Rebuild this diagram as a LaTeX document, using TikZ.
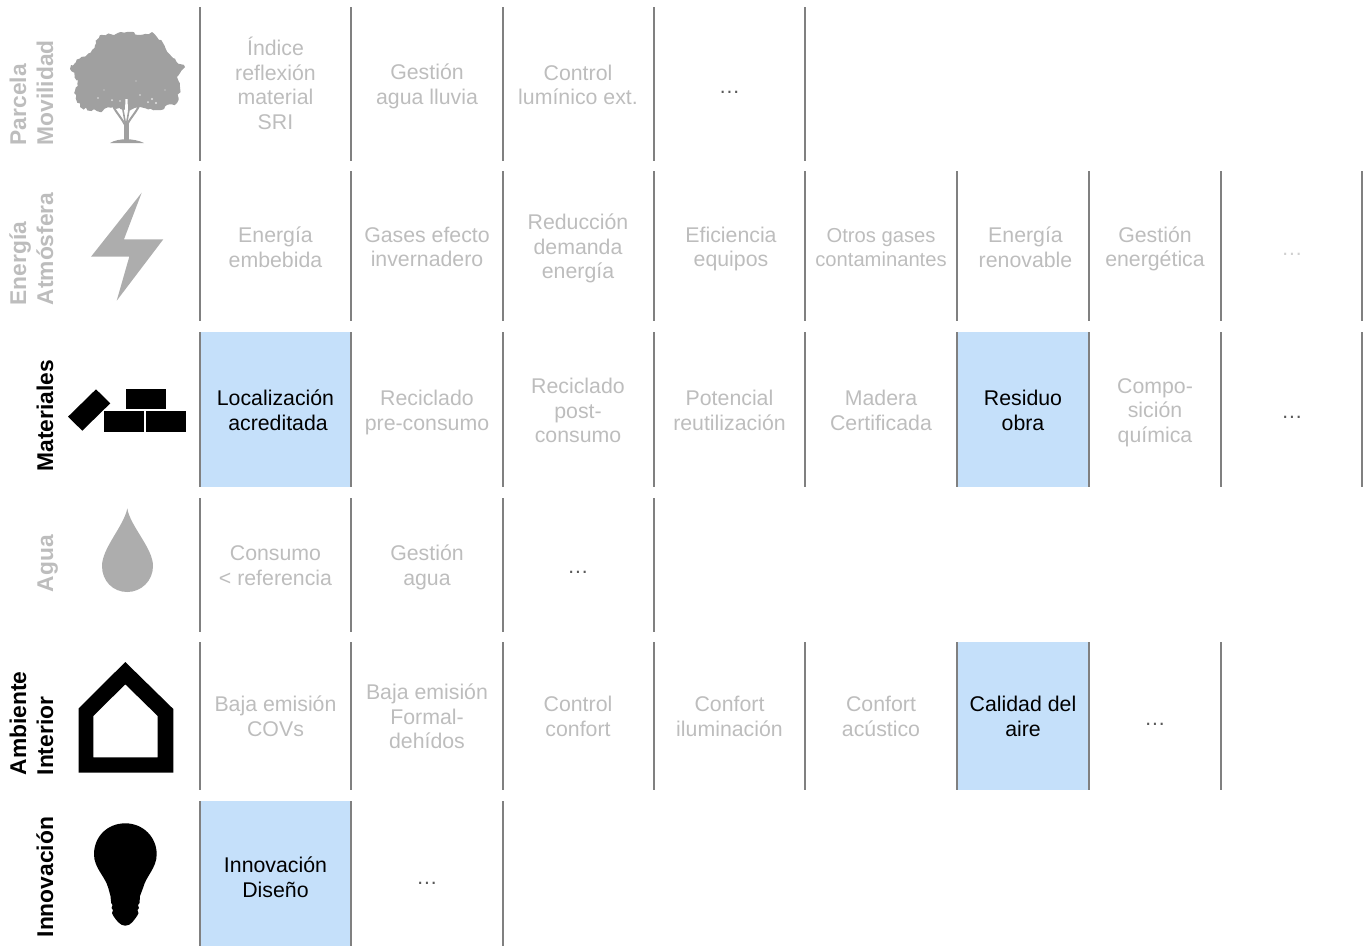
\documentclass[tikz,border=0pt]{standalone}
\usepackage{fontspec}
\setmainfont{Liberation Sans}
\usetikzlibrary{decorations.pathmorphing}
\definecolor{linegray}{HTML}{808080}
\definecolor{txtgray}{HTML}{BDBDBD}
\definecolor{faint}{HTML}{D0D0D0}
\definecolor{icongray}{HTML}{ADADAD}
\definecolor{treegray}{HTML}{A0A0A0}
\definecolor{cellblue}{HTML}{C5E0FA}
\tikzset{
  x=1pt,y=-1pt,
  cell/.style={align=center,inner sep=0pt,text=txtgray,font=\fontsize{21.3}{24.6}\selectfont},
  hot/.style={cell,text=black},
  sep/.style={draw=linegray,line width=2pt},
  side/.style={rotate=90,anchor=base west,inner sep=0pt,font=\fontsize{22.8}{24}\selectfont\bfseries},
  blue/.style={fill=cellblue,draw=none}
}
\newcommand{\seps}[3]{\foreach \xx in {#3}{\draw[sep] (\xx,#1) -- (\xx,#2);}}
\begin{document}
\begin{tikzpicture}
\useasboundingbox (0,0) rectangle (1370,946);
% blue cells
\fill[blue] (200,332) rectangle (351,487);
\fill[blue] (957,332) rectangle (1089,487);
\fill[blue] (957,642) rectangle (1089,790);
\fill[blue] (200,801) rectangle (351,946);
% separators
\seps{7}{161}{200,351,503,654,805}
\seps{171}{321}{200,351,503,654,805,957,1089,1221,1362}
\seps{332}{487}{200,351,503,654,805,957,1089,1221,1362}
\seps{498}{632}{200,351,503,654}
\seps{642}{790}{200,351,503,654,805,957,1089,1221}
\seps{801}{946}{200,351,503}
% side labels
\node[side,text=txtgray] (l1a) at (26,145.5) {Parcela};
\node[side,text=txtgray] (l1b) at (53,145.5) {Movilidad};
\node[side,text=txtgray] (l2a) at (26,305.5) {Energía};
\node[side,text=txtgray] (l2b) at (53,305.5) {Atmósfera};
\node[side,text=black] (l3) at (53,471.5) {Materiales};
\node[side,text=txtgray] (l4) at (53,592.5) {Agua};
\node[side,text=black] (l5a) at (26,775.5) {Ambiente};
\node[side,text=black] (l5b) at (53,775.5) {Interior};
\node[side,text=black] (l6) at (53,937.5) {Innovación};
% row 1
\node[cell] (c11) at (275.5,83.5) {Índice\\reflexión\\material\\SRI};
\node[cell] (c12) at (427,86.5) {Gestión\\agua lluvia};
\node[cell] (c13) at (578,85) {Control\\lumínico ext.};
\node[cell,text=black!65] (c14) at (729.5,92.5) {…};
% row 2
\node[cell] (c21) at (275.5,247) {Energía\\embebida};
\node[cell] (c22) at (427,247) {Gases efecto\\invernadero};
\node[cell] (c23) at (578,248.5) {Reducción\\demanda\\energía};
\node[cell] (c24) at (731,249) {Eficiencia\\equipos};
\node[cell,font=\fontsize{20.2}{24}\selectfont] (c25) at (881,248) {Otros gases\\contaminantes};
\node[cell] (c26) at (1025.5,247) {Energía\\renovable};
\node[cell] (c27) at (1155,249) {Gestión\\energética};
\node[cell,text=faint] (c28) at (1292,254.5) {…};
% row 3
\node[hot] (c31) at (275.5,410.5) {Localización\\\hspace*{5pt}acreditada};
\node[cell] (c32) at (427,412.5) {Reciclado\\pre-consumo};
\node[cell] (c33) at (578,410.5) {Reciclado\\post-\\consumo};
\node[cell] (c34) at (729.5,410.5) {Potencial\\reutilización};
\node[cell] (c35) at (881,410.5) {Madera\\Certificada};
\node[hot] (c36) at (1023,410.5) {Residuo\\obra};
\node[cell] (c37) at (1155,412.5) {Compo-\\sición\\química};
\node[cell,text=black!65] (c38) at (1292,417.5) {…};
% row 4
\node[cell] (c41) at (275.5,565.5) {Consumo\\< referencia};
\node[cell] (c42) at (427,567.5) {Gestión\\agua};
\node[cell,text=black!65] (c43) at (578,572) {…};
% row 5
\node[cell] (c51) at (275.5,716.5) {Baja emisión\\COVs};
\node[cell] (c52) at (427,716.5) {Baja emisión\\Formal-\\dehídos};
\node[cell] (c53) at (578,716.5) {Control\\confort};
\node[cell] (c54) at (729.5,716.5) {Confort\\iluminación};
\node[cell] (c55) at (881,716.5) {Confort\\acústico};
\node[hot] (c56) at (1023,716.5) {Calidad del\\aire};
\node[cell,text=black!65] (c57) at (1155,724) {…};
% row 6
\node[hot] (c61) at (275.5,877) {Innovación\\Diseño};
\node[cell,text=black!65] (c62) at (427,883) {…};
% tree
\pgfmathsetseed{7}
\fill[treegray,decorate,decoration={random steps,segment length=3pt,amplitude=1.6pt}]
  (127,32) -- (100,35) -- (92,50) -- (71,65) -- (70,69) -- (78,80) -- (74,93) -- (80,107)
  -- (100,112) -- (113,107) -- (127,110) -- (140,107) -- (157,110) -- (177,103) -- (180,87)
  -- (177,77) -- (185,67) -- (173,58) -- (163,43) -- (152,32) -- (140,35) -- cycle;
\fill[treegray] (124,124) -- (124,140) -- (129,140) -- (129,124) -- cycle;
\draw[treegray,line width=2pt,line cap=round] (126,127) .. controls (122,118) and (117,114) .. (113,106);
\draw[treegray,line width=2pt,line cap=round] (126,127) .. controls (130,118) and (135,114) .. (139,106);
\draw[treegray,line width=1.6pt,line cap=round] (126,127) -- (122,104);
\draw[treegray,line width=1.6pt,line cap=round] (126,127) -- (130,104);
\fill[treegray] (110,143) .. controls (118,138) and (134,138) .. (144,143) -- cycle;
\fill[white] (125.5,99) -- (127.5,99) -- (128,110) -- (125,110) -- cycle;
\foreach \p/\r in {{152,99}/1.2,{148,102}/1,{156,103}/1.1,{112,100}/1,{98,98}/0.8,{136,81}/0.7,{104,90}/0.7,{120,101}/0.8,{140,95}/0.8,{165,90}/0.6}
  \fill[white!70!treegray] (\p) circle (\r);
% bolt
\fill[icongray] (141.7,192.7) -- (124,239.3) -- (163.3,239.3) -- (116.7,300.7) -- (129.3,256.7) -- (91,256.7) -- cycle;
% bricks
\fill[black] (96,389.3) -- (110.3,403.3) -- (82.3,430.7) -- (68,416.7) -- cycle;
\fill[black] (126,389) rectangle (165.7,409.3);
\fill[black] (104,411.3) rectangle (143.7,431.7);
\fill[black] (146,411.3) rectangle (186,431.7);
% drop
\fill[icongray] (127.3,508.3) .. controls (130,526) and (153,548) .. (153,566)
  .. controls (153,581) and (141,592) .. (127.3,592)
  .. controls (113,592) and (102,581) .. (102,566)
  .. controls (102,548) and (124,526) .. (127.3,508.3) -- cycle;
% house
\fill[black,even odd rule] (125.3,662) -- (173.3,709) -- (173.3,772.7) -- (78.7,772.7) -- (78.7,708.3) -- cycle
  (125.3,684.3) -- (157.7,716) -- (157.7,757.3) -- (93.3,757.3) -- (93.3,716) -- cycle;
% bulb
\fill[black] (125.3,823.3) .. controls (143,823.3) and (156.7,837) .. (156.7,854.3)
  .. controls (156.7,868) and (146,876) .. (143,888)
  -- (140,896) -- (139.5,903)
  -- (138,905) -- (139,908) -- (137.5,910) -- (138.5,913) -- (137,916)
  .. controls (134,920) and (131,925.7) .. (125.3,925.7)
  .. controls (120,925.7) and (116,920) .. (113.5,916)
  -- (112,913) -- (113,910) -- (111.5,908) -- (112.5,905) -- (111.2,903)
  -- (110.5,896) -- (108.3,888)
  .. controls (105,876) and (94,868) .. (94,854.3)
  .. controls (94,837) and (107,823.3) .. (125.3,823.3) -- cycle;
\end{tikzpicture}
\end{document}
